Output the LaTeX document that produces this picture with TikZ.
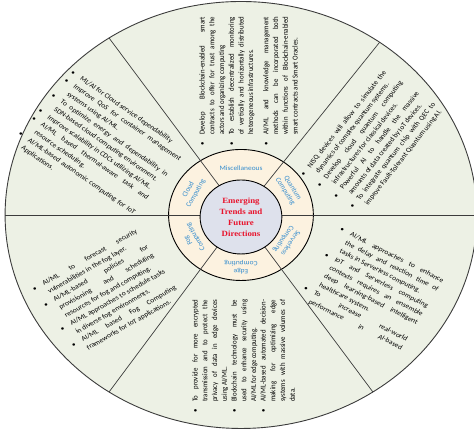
\documentclass[tikz,border=0pt]{standalone}
\usepackage{fontspec}
\setmainfont{Carlito}
\newfontfamily\titlefont{Liberation Serif}

\definecolor{sagefill}{RGB}{237,241,229}
\definecolor{ringfill}{RGB}{252,242,224}
\definecolor{corefill}{RGB}{222,225,236}
\definecolor{labelblue}{RGB}{52,140,206}
\definecolor{titlered}{RGB}{232,20,45}
\definecolor{rimgrey}{RGB}{60,60,60}

% bullet list used in every sector
\newenvironment{dotlist}{\begin{list}{\textbullet}{%
  \setlength{\leftmargin}{11pt}\setlength{\labelwidth}{4pt}%
  \setlength{\labelsep}{7pt}\setlength{\itemsep}{0pt}%
  \setlength{\parsep}{0pt}\setlength{\topsep}{0pt}\setlength{\partopsep}{0pt}%
  \tolerance=10000\hyphenpenalty=10000\exhyphenpenalty=10000}}{\end{list}}

\begin{document}
\begin{tikzpicture}[x=1pt,y=1pt,xscale=1.105,transform shape,
  sector/.style={anchor=north west,inner sep=0pt,align=justify,font=\fontsize{6.8}{#1}\selectfont},
  ringlabel/.style={text=labelblue,font=\fontsize{6.7}{7.6}\selectfont,align=center,inner sep=0pt},
  spoke/.style={draw=rimgrey,line width=0.7pt},
  core/.style={circle,draw,line width=0.9pt,fill=corefill,minimum size=74pt,inner sep=0pt,
    align=center,text=titlered,font=\fontsize{8}{10.9}\titlefont\bfseries}]
\useasboundingbox (-218.1,-216) rectangle (210.9,215);

% wheel
\draw[draw=rimgrey,fill=sagefill,line width=0.9pt] (0,0) circle (213.5);
\draw[fill=ringfill,line width=0.9pt] (0,0) circle (65.5);
\foreach \a in {0,54,124,180,236,304}
  \draw[spoke] (0,0) -- (\a:213.5);
\node[core] (core) at (0,-2) {Emerging\\Trends and\\Future\\Directions};

% ring labels
\node[ringlabel] (misc) at (90:47) {Miscellaneous};
\node[ringlabel,rotate=62] (cloud) at (152:50) {Cloud\\Computing};
\node[ringlabel,rotate=-60] (quantum) at (30:50) {Quantum\\Computing};
\node[ringlabel,rotate=-122] (serverless) at (328:49) {Serverless\\Computing};
\node[ringlabel,rotate=180] (edge) at (270:52) {Edge\\Computing};
\node[ringlabel,rotate=118] (fog) at (208:50) {Fog\\Computing};

% sector texts
\node[sector=9.7,text width=132pt,rotate=-37.5] (cloudtext) at (-149,150) {\begin{dotlist}
\item ML/AI for Cloud service dependability
\item Improve QoS for container management\linebreak systems using AI/ML.
\item To optimize energy and dependability in\linebreak SDN-based cloud computing environment.
\item Improve scalability in CDCs utilizing AI/ML.
\item AI/ML based thermal-aware task and\linebreak resource scheduling.
\item AI/ML-based autonomic computing for IoT\linebreak Applications.
\end{dotlist}};

\node[sector=8.8,text width=129pt,rotate=90] (misctext) at (-41.9,69) {\begin{dotlist}
\item Develop Blockchain-enabled smart\linebreak contracts to offer for trust among the\linebreak actors and organizing computing
\item To establish decentralized monitoring\linebreak of vertically and horizontally distributed\linebreak heterogeneous infrastructures.
\par\vspace{5pt}
\item AI/ML and knowledge management\linebreak methods can be incorporated both\linebreak within functions of Blockchain-enabled\linebreak smart contracts and Smart Oracles.
\end{dotlist}};

\node[sector=9.1,text width=129pt,rotate=54.4] (quantumtext) at (49.1,42.8) {\begin{dotlist}
\item NISQ devices will allow to simulate the\linebreak dynamics of complex quantum systems.
\item Develop cloud quantum computing\linebreak infrastructures for classical devices.
\item Powerful AI to handle the massive\linebreak amounts of data created by IoT devices.
\item To integrate quantum chip with QEC to\linebreak improve Fault-Tolerant Quantum using AI.
\end{dotlist}};

\node[sector=9.6,text width=107pt,rotate=-29.2] (serverlesstext) at (93.3,-7) {\begin{dotlist}
\item AI/ML approaches to enhance\linebreak the delay and reaction time of\linebreak tasks in Serverless computing.
\item IoT and Serverless computing\linebreak contexts requires an ensemble\linebreak deep learning-based intelligent\linebreak healthcare system.
\item To\hfill increase\hfill real-world\linebreak performance\hfill in\hfill AI-based
\end{dotlist}};

\node[sector=8.8,text width=113pt,rotate=90] (edgetext) at (-48.2,-198) {\begin{dotlist}
\item To provide for more encrypted\linebreak transmission and to protect the\linebreak privacy of data in edge devices\linebreak using AI/ML.
\item Blockchain technology must be\linebreak used to enhance security using\linebreak AI/ML for edge computing.
\item AI/ML-based automated decision-\linebreak making for optimizing edge\linebreak systems with massive volumes of\linebreak data.
\end{dotlist}};

\node[sector=9.5,text width=111pt,rotate=32] (fogtext) at (-192.8,-68.3) {\begin{dotlist}
\item AI/ML to forecast security\linebreak vulnerabilities in the fog layer.
\item AI/ML-based policies for\linebreak provisioning and scheduling\linebreak resources for fog and computing.
\item AI/ML approaches to schedule tasks\linebreak in diverse fog environments.
\item AI/ML based Fog Computing\linebreak frameworks for IoT applications.
\end{dotlist}};
\end{tikzpicture}
\end{document}
